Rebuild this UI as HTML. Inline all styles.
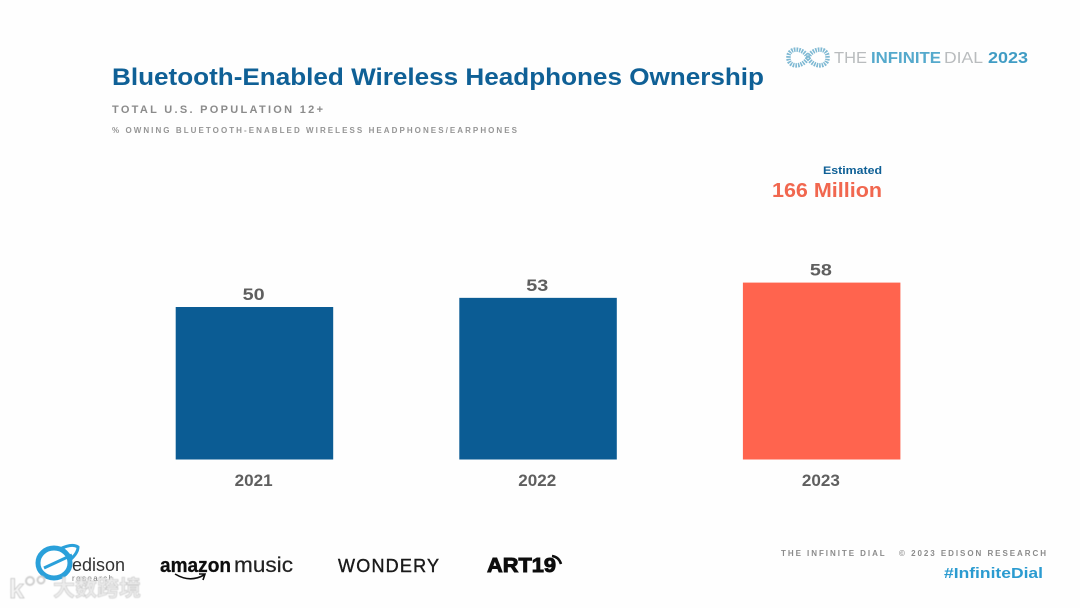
<!DOCTYPE html>
<html lang="en">
<head>
<meta charset="utf-8">
<title>Bluetooth-Enabled Wireless Headphones Ownership</title>
<style>
html,body{margin:0;padding:0;background:#fff;}
body{width:1080px;height:608px;overflow:hidden;}
svg{display:block;}
text{font-family:"Liberation Sans","Noto Sans CJK SC",sans-serif;}
</style>
</head>
<body>
<svg id="chart" width="1080" height="608" viewBox="0 0 1080 608" xmlns="http://www.w3.org/2000/svg">
  <defs>
    <filter id="soft" x="-5%" y="-20%" width="110%" height="140%"><feGaussianBlur stdDeviation="0.35"/></filter>
    <filter id="softer" x="-5%" y="-20%" width="110%" height="140%"><feGaussianBlur stdDeviation="0.55"/></filter>
  </defs>
  <rect width="1080" height="608" fill="#fefefe"/>
  <text x="112" y="85" font-size="24.5" font-weight="700" fill="#0f6096" textLength="652" lengthAdjust="spacingAndGlyphs">Bluetooth-Enabled Wireless Headphones Ownership</text>
  <g filter="url(#soft)">
    <text x="112" y="113" font-size="11" font-weight="700" fill="#8b8b8b" textLength="211" lengthAdjust="spacing">TOTAL U.S. POPULATION 12+</text>
    <text x="112" y="133" font-size="8" font-weight="700" fill="#959595" textLength="405" lengthAdjust="spacing">% OWNING BLUETOOTH-ENABLED WIRELESS HEADPHONES/EARPHONES</text>
  </g>

  <g filter="url(#soft)">
    <path d="M808 57.5 C803 47 788 47 788.5 57.5 C788 68 803 68 808 57.5 C813 47 828 47 827.5 57.5 C828 68 813 68 808 57.5 Z" fill="none" stroke="#7fb9d3" stroke-width="4.5" stroke-dasharray="1.6 1"/>
    <text x="834" y="63" font-size="16" fill="#b9bcbe" textLength="33" lengthAdjust="spacingAndGlyphs">THE</text>
    <text x="871" y="63" font-size="16" font-weight="700" fill="#55a9cc" textLength="70" lengthAdjust="spacingAndGlyphs">INFINITE</text>
    <text x="944" y="63" font-size="16" fill="#b9bcbe" textLength="39" lengthAdjust="spacingAndGlyphs">DIAL</text>
    <text x="988" y="63" font-size="16" font-weight="700" fill="#3f9cc4" textLength="40" lengthAdjust="spacingAndGlyphs">2023</text>
  </g>

  <text x="882" y="174" text-anchor="end" font-size="11" font-weight="700" fill="#0f6096" textLength="59" lengthAdjust="spacingAndGlyphs">Estimated</text>
  <text x="882" y="197" text-anchor="end" font-size="20" font-weight="700" fill="#f1674f" textLength="110" lengthAdjust="spacingAndGlyphs">166 Million</text>

  <g id="bars"></g>

  <g filter="url(#soft)">
    <ellipse cx="54" cy="563" rx="16" ry="15" fill="none" stroke="#2aa0da" stroke-width="5"/>
    <path d="M44 568 L72 555 M60 549 Q72 543 78 547 Q78 553 70 560" fill="none" stroke="#2aa0da" stroke-width="3"/>
    <text x="72" y="571" font-size="18" fill="#333" textLength="53" lengthAdjust="spacingAndGlyphs">edison</text>
    <text x="72" y="581" font-size="8" fill="#777" textLength="41" lengthAdjust="spacing">research</text>
  </g>
  <g filter="url(#softer)">
    <text x="9" y="598" font-size="27" font-weight="700" fill="#f4f4f4" stroke="#c4c4c4" stroke-width="0.8">k</text>
    <circle cx="30" cy="581" r="4" fill="none" stroke="#cfcfcf" stroke-width="2"/>
    <circle cx="41" cy="580" r="3.5" fill="none" stroke="#cfcfcf" stroke-width="2"/>
    <text x="53" y="596" font-size="22" font-weight="700" fill="#ececec" stroke="#bdbdbd" stroke-width="0.5" textLength="88">大数跨境</text>
  </g>

  <g filter="url(#soft)">
    <text x="160" y="572" font-size="20" font-weight="700" fill="#111" stroke="#111" stroke-width="0.3" textLength="71" lengthAdjust="spacingAndGlyphs">amazon</text>
    <text x="234" y="572" font-size="21" fill="#222" stroke="#222" stroke-width="0.2" textLength="59" lengthAdjust="spacingAndGlyphs">music</text>
    <path d="M175 574 Q190 583 204 575 M199 574 L205 574 L203 580" fill="none" stroke="#111" stroke-width="1.6"/>
  </g>
  <text x="338" y="572" font-size="18" fill="#1a1a1a" stroke="#1a1a1a" stroke-width="0.4" textLength="101" lengthAdjust="spacing" filter="url(#soft)">WONDERY</text>
  <g filter="url(#soft)">
    <text x="487" y="572" font-size="20" font-weight="700" fill="#0c0c0c" stroke="#0c0c0c" stroke-width="0.9" textLength="69" lengthAdjust="spacingAndGlyphs">ART19</text>
    <path d="M552 556 Q559 557 561 564" fill="none" stroke="#0c0c0c" stroke-width="2.5"/>
  </g>

  <g filter="url(#soft)">
    <text x="781" y="556" font-size="8" font-weight="700" fill="#8b8b8b" textLength="265" lengthAdjust="spacing" xml:space="preserve">THE INFINITE DIAL   © 2023 EDISON RESEARCH</text>
  </g>
  <text x="1043" y="578" text-anchor="end" font-size="15" font-weight="700" fill="#2b9bd0" textLength="99" lengthAdjust="spacingAndGlyphs">#InfiniteDial</text>
</svg>
<script>
var categories = ["2021", "2022", "2023"];
var seriesValues = [50, 53, 58];
var highlightYear = "2023";

function xScale(index) { return 175.7 + index * 283.6; }
function yScale(value) { return 459.5 - value * 3.05; }

var svgNS = "http://www.w3.org/2000/svg";
var group = document.getElementById("bars");

categories.forEach(function (category, i) {
  var value = seriesValues[i];
  var left = xScale(i);
  var top = yScale(value);
  var center = left + 78.5;

  var bar = document.createElementNS(svgNS, "rect");
  
  
  bar.setAttribute("x", left);
  bar.setAttribute("y", top);
  bar.setAttribute("width", 157.5);
  bar.setAttribute("height", yScale(0) - top);
  bar.setAttribute("fill", category === highlightYear ? "#ff644e" : "#0b5c94");
  group.appendChild(bar);

  var valueLabel = document.createElementNS(svgNS, "text");
  
  
  valueLabel.setAttribute("x", center - 0.5);
  valueLabel.setAttribute("y", top - 7);
  valueLabel.setAttribute("text-anchor", "middle");
  valueLabel.setAttribute("font-size", "16.5");
  valueLabel.setAttribute("font-weight", "700");
  valueLabel.setAttribute("fill", "#5f5f5f");
  valueLabel.setAttribute("textLength", "22");
  valueLabel.setAttribute("lengthAdjust", "spacingAndGlyphs");
  valueLabel.textContent = value;
  group.appendChild(valueLabel);

  var axisLabel = document.createElementNS(svgNS, "text");
  
  
  axisLabel.setAttribute("x", center - 0.5);
  axisLabel.setAttribute("y", 486);
  axisLabel.setAttribute("text-anchor", "middle");
  axisLabel.setAttribute("font-size", "16.5");
  axisLabel.setAttribute("font-weight", "700");
  axisLabel.setAttribute("fill", "#5f5f5f");
  axisLabel.setAttribute("textLength", "38");
  axisLabel.setAttribute("lengthAdjust", "spacingAndGlyphs");
  axisLabel.textContent = category;
  group.appendChild(axisLabel);
});
</script>
</body>
</html>
